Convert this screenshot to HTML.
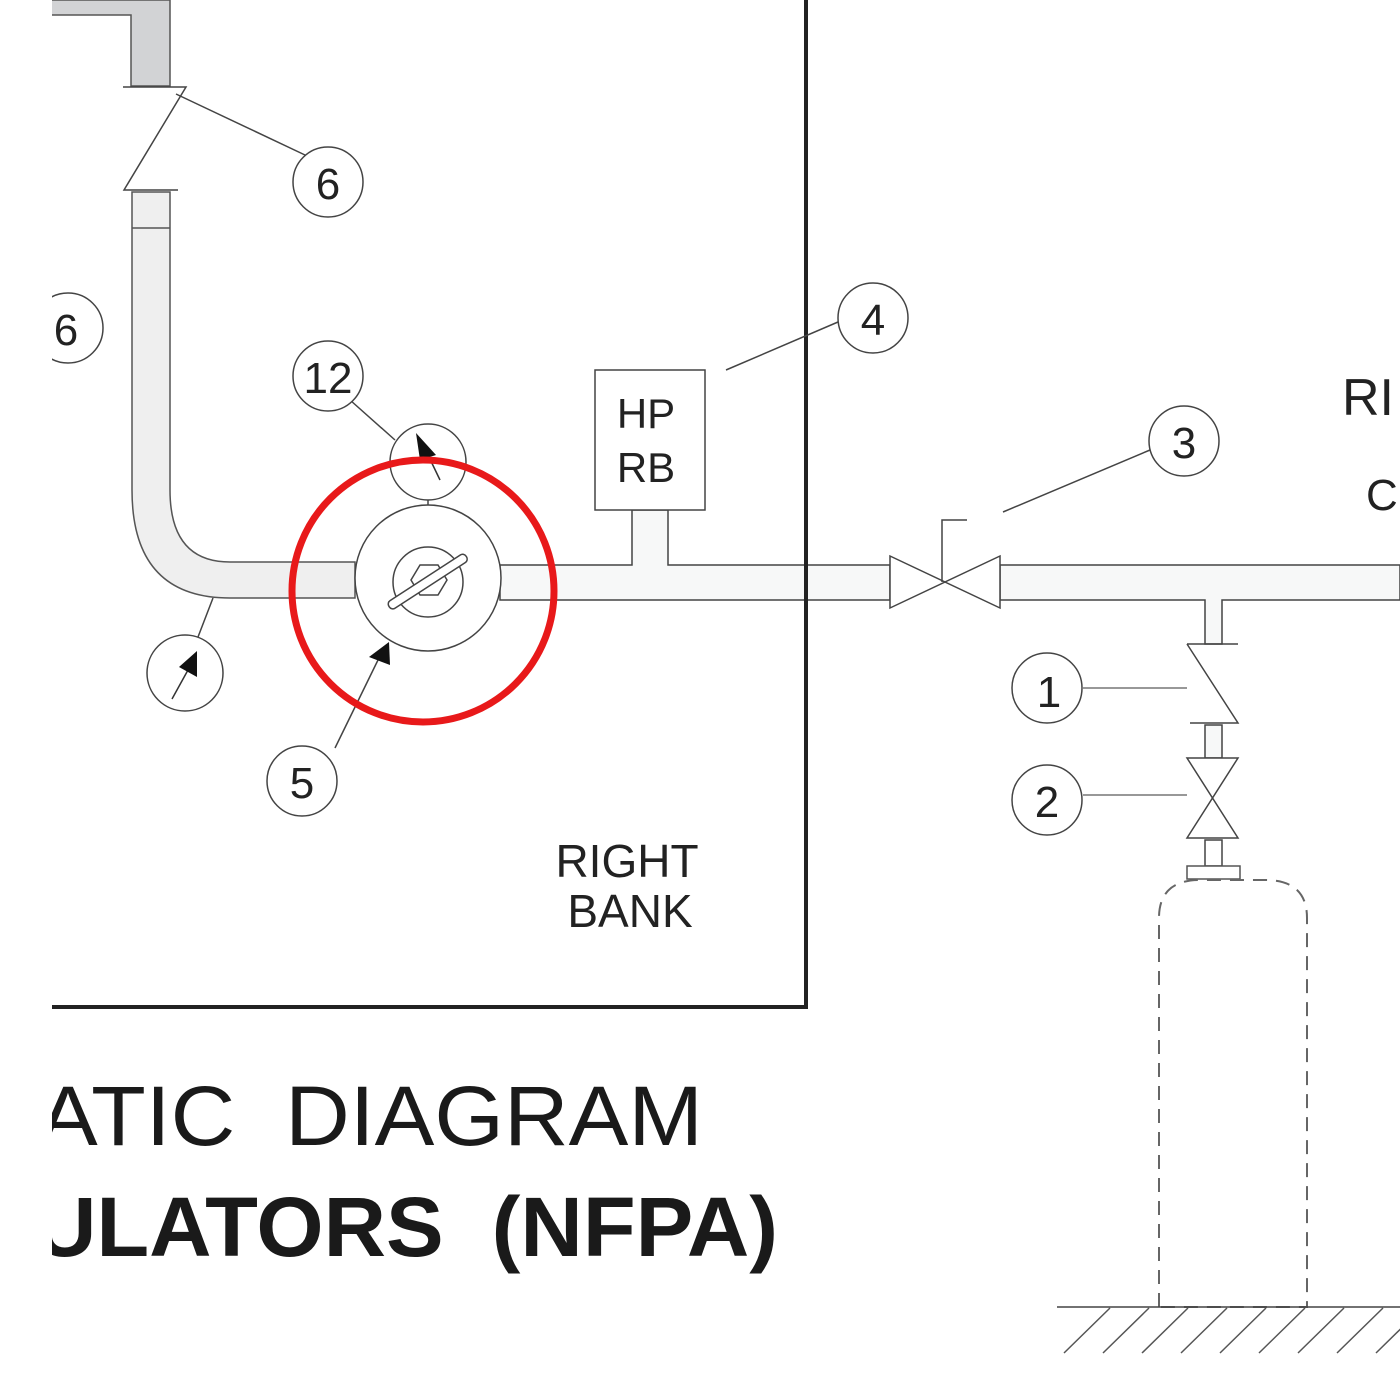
<!DOCTYPE html>
<html><head><style>html,body{margin:0;padding:0;background:#fff}svg{display:block}text{white-space:pre}</style></head>
<body>
<svg width="1400" height="1400" viewBox="0 0 1400 1400" xmlns="http://www.w3.org/2000/svg" font-family="Liberation Sans, sans-serif">
<defs><clipPath id="c"><rect x="52" y="0" width="1348" height="1400"/></clipPath></defs>
<g clip-path="url(#c)" stroke-linejoin="miter">
<path d="M40 0 H170 V86 H131 V15 H40 Z" fill="#d2d3d5" stroke="#555" stroke-width="1.5"/>
<path d="M123 87 H186 L124 190 H178" fill="none" stroke="#444" stroke-width="1.5"/>
<path d="M132 192 V490 Q132 598 230 598 H355 V562 H230 Q170 562 170 490 V192 Z" fill="#efefef" stroke="#555" stroke-width="1.5"/>
<line x1="132" y1="228" x2="170" y2="228" stroke="#555" stroke-width="1.5"/>
<path d="M500 565 H632 V510 H668 V565 H890 V600 H500 Z" fill="#f7f8f8" stroke="#444" stroke-width="1.5"/>
<path d="M1000 565 H1400 V600 H1222 V644 H1205 V600 H1000 Z" fill="#f7f8f8" stroke="#444" stroke-width="1.5"/>
<rect x="595" y="370" width="110" height="140" fill="#fff" stroke="#444" stroke-width="1.5"/>
<text x="646" y="428" font-size="42" text-anchor="middle" fill="#222">HP</text>
<text x="646" y="482" font-size="42" text-anchor="middle" fill="#222">RB</text>
<circle cx="428" cy="578" r="73" fill="#fff" stroke="#444" stroke-width="1.5"/>
<circle cx="428" cy="582" r="35" fill="none" stroke="#444" stroke-width="1.5"/>
<polygon points="420,565 438,565 447,580 438,595 420,595 411,580" fill="none" stroke="#444" stroke-width="1.5"/>
<g transform="rotate(-33 428 582)"><rect x="382" y="577" width="92" height="9" rx="4" fill="#fff" stroke="#444" stroke-width="1.5"/></g>
<line x1="428" y1="505" x2="428" y2="500" stroke="#444" stroke-width="1.5"/>
<circle cx="428" cy="462" r="38" fill="#fff" stroke="#444" stroke-width="1.5"/>
<line x1="440" y1="480" x2="428" y2="455" stroke="#333" stroke-width="1.5"/>
<polygon points="416,433 436,455 420,460" fill="#111"/>
<line x1="350" y1="400" x2="395" y2="440" stroke="#444" stroke-width="1.5"/>
<circle cx="328" cy="376" r="35" fill="#fff" stroke="#444" stroke-width="1.5"/>
<text x="328" y="393" font-size="44" text-anchor="middle" fill="#222">12</text>
<line x1="335" y1="748" x2="378" y2="660" stroke="#444" stroke-width="1.5"/>
<polygon points="389,642 390,665 369,657" fill="#111"/>
<circle cx="302" cy="781" r="35" fill="#fff" stroke="#444" stroke-width="1.5"/>
<text x="302" y="798" font-size="44" text-anchor="middle" fill="#222">5</text>
<line x1="213" y1="598" x2="198" y2="637" stroke="#444" stroke-width="1.5"/>
<circle cx="185" cy="673" r="38" fill="#fff" stroke="#444" stroke-width="1.5"/>
<line x1="172" y1="699" x2="188" y2="670" stroke="#333" stroke-width="1.5"/>
<polygon points="197,651 197,677 179,667" fill="#111"/>
<line x1="176" y1="94" x2="305" y2="155" stroke="#444" stroke-width="1.5"/>
<circle cx="328" cy="182" r="35" fill="#fff" stroke="#444" stroke-width="1.5"/>
<text x="328" y="199" font-size="44" text-anchor="middle" fill="#222">6</text>
<circle cx="68" cy="328" r="35" fill="#fff" stroke="#444" stroke-width="1.5"/>
<text x="66" y="345" font-size="44" text-anchor="middle" fill="#222">6</text>
<circle cx="423" cy="591" r="131" fill="none" stroke="#e8191a" stroke-width="7"/>
<path d="M806 0 V1007 H40" fill="none" stroke="#222" stroke-width="4"/>
<line x1="838" y1="322" x2="726" y2="370" stroke="#444" stroke-width="1.5"/>
<circle cx="873" cy="318" r="35" fill="#fff" stroke="#444" stroke-width="1.5"/>
<text x="873" y="335" font-size="44" text-anchor="middle" fill="#222">4</text>
<polygon points="890,556 945,582 890,608" fill="#fff" stroke="#444" stroke-width="1.5"/>
<polygon points="1000,556 945,582 1000,608" fill="#fff" stroke="#444" stroke-width="1.5"/>
<path d="M942 582 V520 H967" fill="none" stroke="#444" stroke-width="1.5"/>
<line x1="1003" y1="512" x2="1150" y2="450" stroke="#444" stroke-width="1.5"/>
<circle cx="1184" cy="441" r="35" fill="#fff" stroke="#444" stroke-width="1.5"/>
<text x="1184" y="458" font-size="44" text-anchor="middle" fill="#222">3</text>
<path d="M1187 644 H1238 M1187 644 L1238 723 H1190" fill="none" stroke="#444" stroke-width="1.5"/>
<rect x="1205" y="725" width="17" height="33" fill="#f7f8f8" stroke="#444" stroke-width="1.5"/>
<path d="M1187 758 H1238 L1187 838 H1238 Z" fill="#fff" stroke="#444" stroke-width="1.5"/>
<rect x="1205" y="840" width="17" height="26" fill="#fff" stroke="#444" stroke-width="1.5"/>
<rect x="1187" y="866" width="53" height="13" fill="#fff" stroke="#555" stroke-width="1.5"/>
<line x1="1083" y1="688" x2="1187" y2="688" stroke="#777" stroke-width="1.5"/>
<circle cx="1047" cy="688" r="35" fill="#fff" stroke="#444" stroke-width="1.5"/>
<text x="1049" y="707" font-size="44" text-anchor="middle" fill="#222">1</text>
<line x1="1083" y1="795" x2="1187" y2="795" stroke="#777" stroke-width="1.5"/>
<circle cx="1047" cy="800" r="35" fill="#fff" stroke="#444" stroke-width="1.5"/>
<text x="1047" y="817" font-size="44" text-anchor="middle" fill="#222">2</text>
<path d="M1159 1307 V918 Q1159 880 1200 880 H1265 Q1307 880 1307 918 V1307 H1159" fill="none" stroke="#666" stroke-width="2" stroke-dasharray="14 9"/>
<line x1="1057" y1="1307" x2="1400" y2="1307" stroke="#444" stroke-width="1.5"/>
<g stroke="#555" stroke-width="1.5">
<line x1="1064" y1="1353" x2="1110" y2="1308"/><line x1="1103" y1="1353" x2="1149" y2="1308"/><line x1="1142" y1="1353" x2="1188" y2="1308"/><line x1="1181" y1="1353" x2="1227" y2="1308"/><line x1="1220" y1="1353" x2="1266" y2="1308"/><line x1="1259" y1="1353" x2="1305" y2="1308"/><line x1="1298" y1="1353" x2="1344" y2="1308"/><line x1="1337" y1="1353" x2="1383" y2="1308"/><line x1="1376" y1="1353" x2="1422" y2="1308"/>
</g>
<text x="627" y="877" font-size="46" text-anchor="middle" fill="#222">RIGHT</text>
<text x="630" y="927" font-size="46" text-anchor="middle" fill="#222">BANK</text>
<text x="1342" y="415" font-size="52" fill="#222">RI</text>
<text x="1366" y="510" font-size="44" fill="#222">C</text>
<text x="38" y="1145" font-size="84" fill="#1a1a1a" textLength="665" lengthAdjust="spacingAndGlyphs">ATIC  DIAGRAM</text>
<text x="34" y="1256" font-size="84" font-weight="bold" fill="#1a1a1a" textLength="744" lengthAdjust="spacingAndGlyphs">ULATORS  (NFPA)</text>
</g>
</svg>
</body></html>
